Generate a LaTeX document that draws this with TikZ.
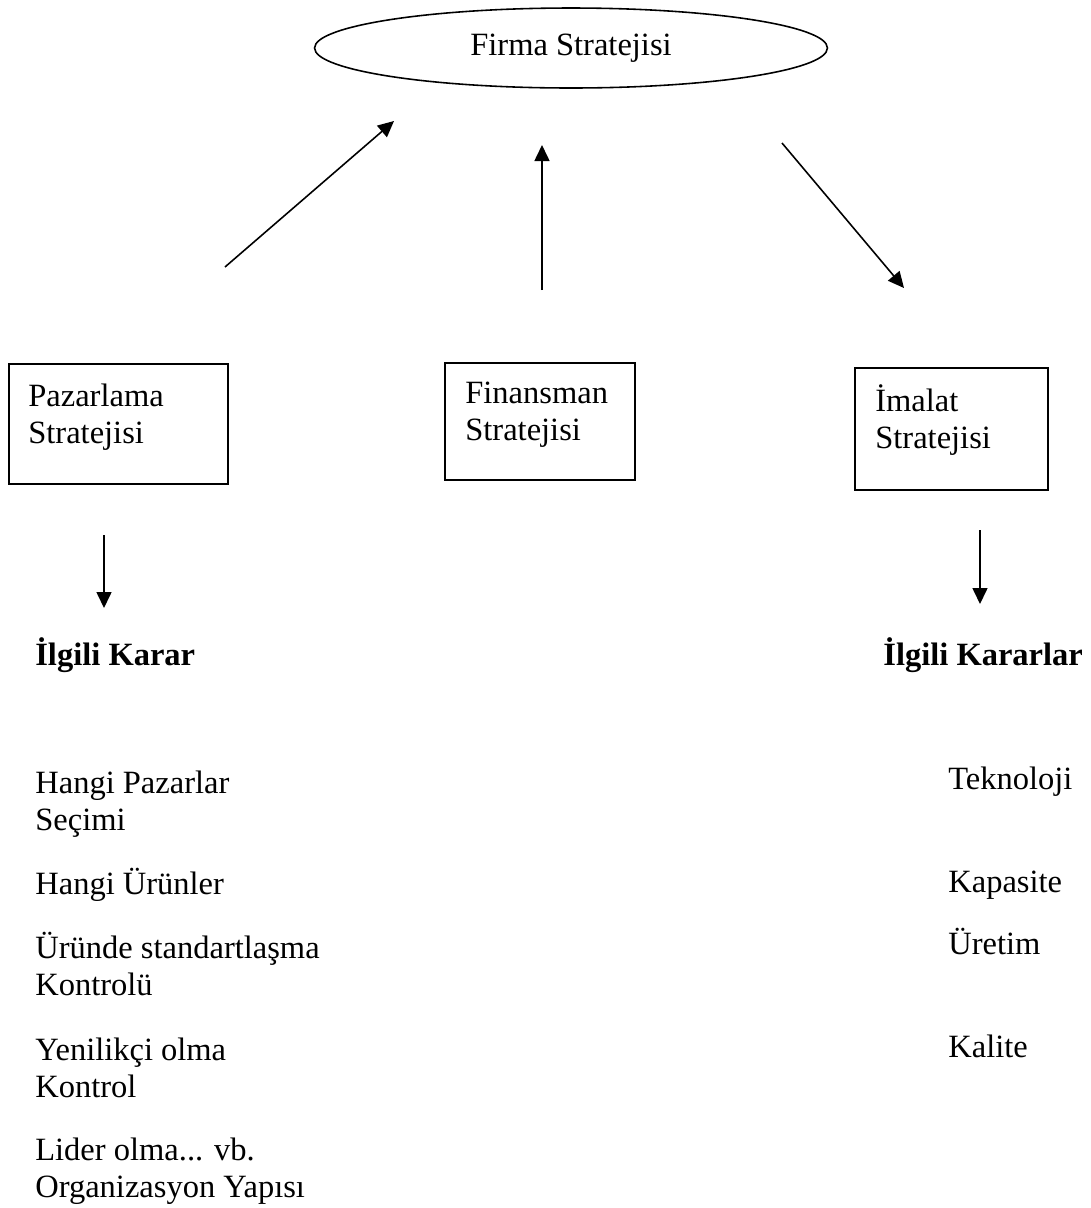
\documentclass[tikz,border=0pt]{standalone}
\usepackage{fontspec}
\setmainfont{Liberation Serif}
\usepackage{tikz}
\usetikzlibrary{arrows.meta}
\usetikzlibrary{shapes.geometric}

\tikzset{
  kutu/.style={draw=black, line width=0.9pt, inner sep=0pt},
  yazi/.style={inner sep=0pt, anchor=base west, align=left, font=\fontsize{18.5}{21}\selectfont},
  ok/.style={-{Triangle[length=0.32cm,width=0.3cm]}, line width=0.9pt}
}

\begin{document}
\begin{tikzpicture}[x=0.02cm, y=-0.02cm]
    \useasboundingbox (0,0) rectangle (1091,1208);
    \node[draw=black, ellipse, line width=0.9pt, minimum width=10.26cm, minimum height=1.6cm, font=\fontsize{18.5}{21}\selectfont] (firma) at (571,48) {Firma Stratejisi};
    \node[kutu, minimum width=4.38cm, minimum height=2.4cm] (paz) at (118.5,424) {};
    \node[kutu, minimum width=3.8cm, minimum height=2.34cm] (fin) at (540,421.5) {};
    \node[kutu, minimum width=3.86cm, minimum height=2.44cm] (ima) at (951.5,429) {};
    % two-line texts sit on their last baseline
    \node[yazi] (pazt) at (28,443) {Pazarlama\\Stratejisi};
    \node[yazi] (fint) at (465,440) {Finansman\\Stratejisi};
    \node[yazi] (imat) at (875,448) {İmalat\\Stratejisi};
    \node[yazi, font=\fontsize{18.5}{21}\selectfont\bfseries] (kararsol) at (35,665) {İlgili Karar};
    \node[yazi, font=\fontsize{18.5}{21}\selectfont\bfseries] (kararsag) at (883,665) {İlgili Kararlar};
    \node[yazi] (s1) at (35,830) {Hangi Pazarlar\\Seçimi};
    \node[yazi] (s2) at (35,894) {Hangi Ürünler};
    \node[yazi] (s3) at (35,995) {Üründe standartlaşma\\Kontrolü};
    \node[yazi] (s4) at (35,1097) {Yenilikçi olma\\Kontrol};
    \node[yazi] (s5) at (35,1197) {Lider olma... vb.\\Organizasyon Yapısı};
    \node[yazi] (r1) at (948,789) {Teknoloji};
    \node[yazi] (r2) at (948,892) {Kapasite};
    \node[yazi] (r3) at (948,954) {Üretim};
    \node[yazi] (r4) at (948,1057) {Kalite};
    % free arrow ends
    \coordinate (a1) at (225,267);
    \coordinate (b1) at (394,121);
    \coordinate (a2) at (542,290);
    \coordinate (b2) at (542,145);
    \coordinate (a3) at (782,143);
    \coordinate (b3) at (904,288);
    \coordinate (a4) at (104,535);
    \coordinate (b4) at (104,608);
    \coordinate (a5) at (980,530);
    \coordinate (b5) at (980,604);
    \draw[ok] (a1) -- (b1);
    \draw[ok] (a2) -- (b2);
    \draw[ok] (a3) -- (b3);
    \draw[ok] (a4) -- (b4);
    \draw[ok] (a5) -- (b5);
\end{tikzpicture}
\end{document}
